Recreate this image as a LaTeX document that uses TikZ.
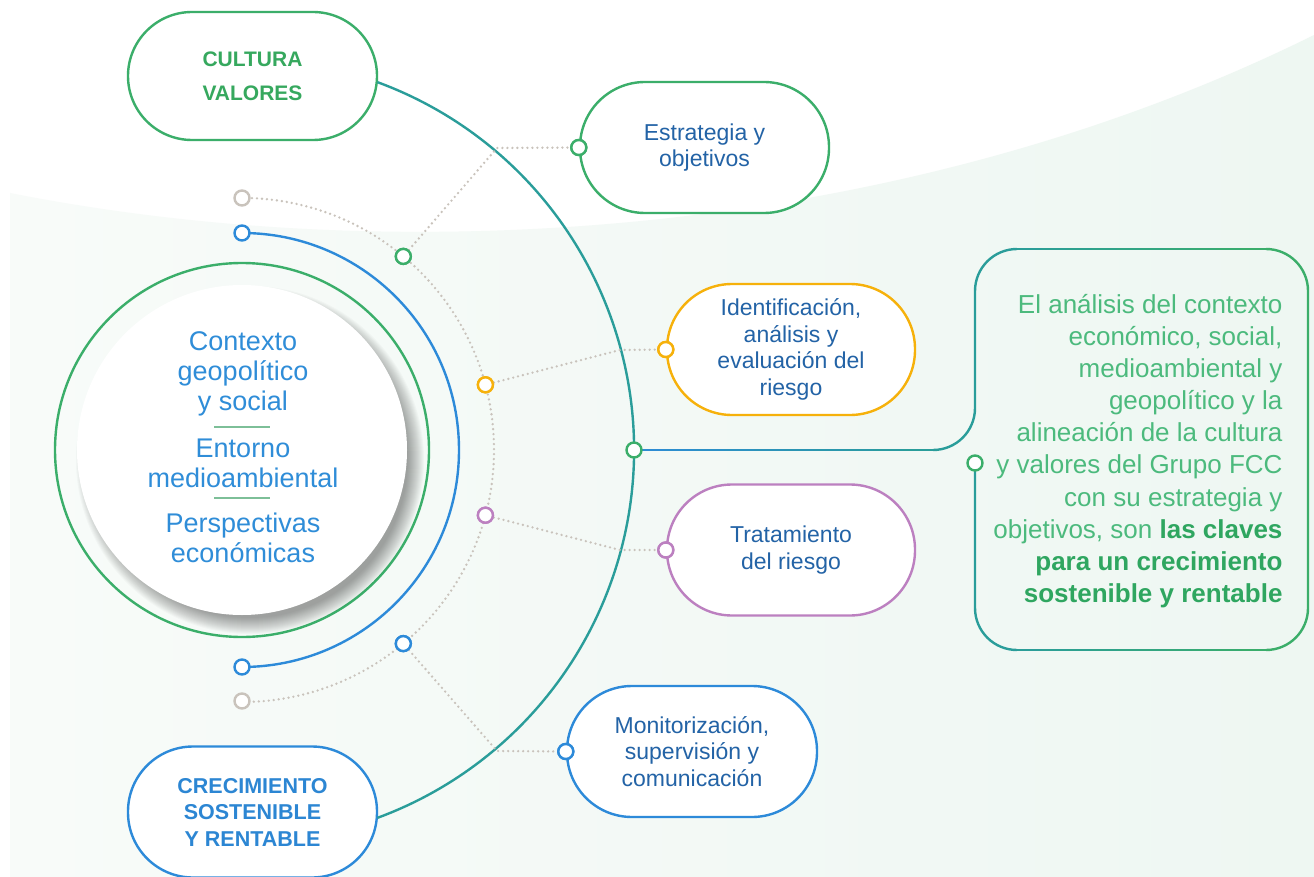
\documentclass[tikz,border=0pt]{standalone}
\usepackage{fontspec}
\setmainfont{Liberation Sans}
\definecolor{cgreen}{HTML}{3BAE6A}
\definecolor{cgreentext}{HTML}{36A85E}
\definecolor{corange}{HTML}{F6B10B}
\definecolor{cpurple}{HTML}{BC80C0}
\definecolor{cblue}{HTML}{2D8AD9}
\definecolor{cbluetext}{HTML}{2C86D3}
\definecolor{cteal}{HTML}{2A9D9A}
\definecolor{dotgray}{HTML}{C9C3BC}
\definecolor{pilltext}{HTML}{2363A6}
\definecolor{ctrtext}{HTML}{2F8DD8}
\definecolor{sepgreen}{HTML}{7DBF98}
\definecolor{rtgreen}{HTML}{4CBA7D}
\definecolor{rtbold}{HTML}{2FA660}
\definecolor{mintL}{HTML}{F8FBF9}
\definecolor{mintR}{HTML}{EEF7F2}
\begin{document}
\begin{tikzpicture}[x=1pt,y=-1pt,
  pill/.style={draw, line width=2.4pt, fill=white, rounded corners=65pt, minimum width=249pt, minimum height=131pt, inner sep=0pt, align=center},
  pilltxt/.style={text=pilltext, font=\fontsize{23}{26.7}\selectfont},
  dotnode/.style={circle, draw, fill=white, line width=2.4pt, minimum size=15pt, inner sep=0pt},
  dotline/.style={draw=dotgray, line width=2.6pt, line cap=round, dash pattern=on 0pt off 5pt},
  ctxt/.style={text=ctrtext, align=center, font=\fontsize{27}{30}\selectfont},
  thick2/.style={line width=2.4pt}
]
\useasboundingbox (0,0) rectangle (1314,877);
\fill[white] (0,0) rectangle (1314,877);
% background band
\shade[left color=mintL, right color=mintR] (10,193) .. controls (400,270) and (900,240) .. (1314,35) -- (1314,877) -- (10,877) -- cycle;

\coordinate (O) at (242,450);
\coordinate (Os) at (250,460);

% dotted gray arc
\draw[dotline] (242,198) arc[start angle=-90, end angle=90, radius=252];

% small nodes on dotted arc
\node[dotnode, draw=dotgray] (gTop) at (242,198) {};
\node[dotnode, draw=dotgray] (gBot) at (242,701) {};
\node[dotnode, draw=cgreen] (dG) at (403.3,256.4) {};
\node[dotnode, draw=corange] (dO) at (485.4,384.8) {};
\node[dotnode, draw=cpurple] (dP) at (485.4,515.2) {};
\node[dotnode, draw=cblue] (dB) at (403.3,643.6) {};

% blue arc
\draw[cblue, thick2] (242,233) arc[start angle=-90, end angle=90, radius=217];
\node[dotnode, draw=cblue] (bTop) at (242,233) {};
\node[dotnode, draw=cblue] (bBot) at (242,667) {};

% green ring
\draw[cgreen, thick2] (O) circle[radius=187];

% shadow
\foreach \i in {0,...,16} {
  \fill[black, opacity=0.024] (Os) circle[radius=158+\i];
}
\node[circle, fill=white, minimum size=330pt, inner sep=0pt] (disc) at (O) {};

% central texts
\node[ctxt] (ctxA) at (243,374) {Contexto\\geopolítico\\y social};
\node[ctxt] (ctxB) at (243,463) {Entorno\\medioambiental};
\node[ctxt] (ctxC) at (243,537.5) {Perspectivas\\económicas};
\draw[sepgreen, line width=2.6pt] (214,427) -- (270,427);
\draw[sepgreen, line width=2.6pt] (214,498) -- (270,498);

% pills
\node[pill, draw=cgreen, minimum height=128pt, rounded corners=64pt, text=cgreentext, font=\bfseries\fontsize{21}{34}\selectfont] (cul) at (252.5,76) {CULTURA\\VALORES};
\node[pill, draw=cblue, text=cbluetext, font=\bfseries\fontsize{21.5}{26.5}\selectfont] (cre) at (252.5,812) {CRECIMIENTO\\SOSTENIBLE\\Y RENTABLE};
\node[pill, pilltxt, draw=cgreen] (est) at (704.5,147.5) {Estrategia y\\objetivos};
\node[pill, pilltxt, draw=corange, minimum width=248pt] (ide) at (791,349.5) {Identificación,\\análisis y\\evaluación del\\riesgo};
\node[pill, pilltxt, draw=cpurple, minimum width=248pt] (tra) at (791,550) {Tratamiento\\del riesgo};
\node[pill, pilltxt, draw=cblue, minimum width=250pt] (mon) at (692,751.5) {Monitorización,\\supervisión y\\comunicación};

% big teal arc
\draw[cteal, thick2] (O) ++(-69.8:392) arc[start angle=-69.8, end angle=69.8, radius=392];

% dotted connectors
\coordinate (e1) at (497,148);
\coordinate (e2) at (620,350);
\coordinate (e3) at (620,550);
\coordinate (e4) at (497,751);
\node[dotnode, draw=cgreen] (cEst) at (est.west) {};
\node[dotnode, draw=corange] (cIde) at (ide.west) {};
\node[dotnode, draw=cpurple] (cTra) at (tra.west) {};
\node[dotnode, draw=cblue] (cMon) at (mon.west) {};
\draw[dotline] (dG) -- (e1) -- (cEst);
\draw[dotline] (dO) -- (e2) -- (cIde);
\draw[dotline] (dP) -- (e3) -- (cTra);
\draw[dotline] (dB) -- (e4) -- (cMon);
\node[dotnode, draw=cgreen] (cEst2) at (est.west) {};
\node[dotnode, draw=corange] (cIde2) at (ide.west) {};
\node[dotnode, draw=cpurple] (cTra2) at (tra.west) {};
\node[dotnode, draw=cblue] (cMon2) at (mon.west) {};
\node[dotnode, draw=cgreen] (dG2) at (dG) {};
\node[dotnode, draw=corange] (dO2) at (dO) {};
\node[dotnode, draw=cpurple] (dP2) at (dP) {};
\node[dotnode, draw=cblue] (dB2) at (dB) {};

% hub connector: blue fading to teal
\coordinate (hubc) at (634,450);
\coordinate (rEnd) at (975,463);
\foreach \i in {0,...,9} {
  \pgfmathsetmacro\xa{634+29.9*\i}
  \pgfmathsetmacro\xb{634+29.9*(\i+1)+0.6}
  \pgfmathtruncatemacro\pp{90-10*\i}
  \draw[cblue!\pp!cteal, thick2] (\xa,450) -- (\xb,450);
}
\draw[cteal, thick2] (933,450) arc[start angle=90, end angle=0, radius=42] -- (975,291)
  arc[start angle=180, end angle=270, radius=42];
% top edge teal -> green
\foreach \i in {0,...,9} {
  \pgfmathsetmacro\xa{1017+24.9*\i}
  \pgfmathsetmacro\xb{1017+24.9*(\i+1)+0.6}
  \pgfmathtruncatemacro\pp{10*\i+5}
  \draw[cgreen!\pp!cteal, thick2] (\xa,249) -- (\xb,249);
}
\draw[cgreen, thick2] (1266,249) arc[start angle=270, end angle=360, radius=42] -- (1308,608)
  arc[start angle=0, end angle=90, radius=42];
% bottom edge green -> teal
\foreach \i in {0,...,9} {
  \pgfmathsetmacro\xa{1266-24.9*\i}
  \pgfmathsetmacro\xb{1266-24.9*(\i+1)-0.6}
  \pgfmathtruncatemacro\pp{95-10*\i}
  \draw[cgreen!\pp!cteal, thick2] (\xa,650) -- (\xb,650);
}
\draw[cteal, thick2] (1017,650) arc[start angle=90, end angle=180, radius=42] -- (rEnd);
\node[dotnode, draw=cgreen] (hub) at (hubc) {};
\node[dotnode, draw=cgreen] (rDot) at (rEnd) {};

\node[anchor=east, align=right, text=rtgreen, font=\fontsize{26}{32.1}\selectfont] (rtext) at (1286,451) {El análisis del contexto\\económico, social,\\medioambiental y\\geopolítico y la\\alineación de la cultura\\y valores del Grupo FCC\\con su estrategia y\\objetivos, son {\bfseries\color{rtbold}las claves}\\{\bfseries\color{rtbold}para un crecimiento}\\{\bfseries\color{rtbold}sostenible y rentable}};
\end{tikzpicture}
\end{document}
